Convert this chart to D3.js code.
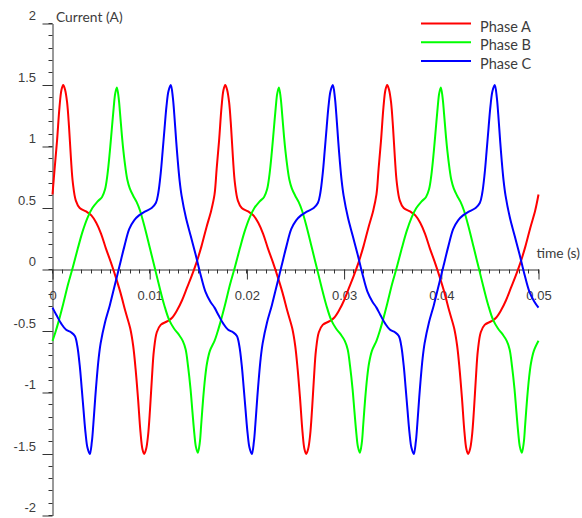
<!DOCTYPE html>
<html>
<head>
<meta charset="utf-8">
<script src="https://cdn.jsdelivr.net/npm/d3@7"></script>
<style>
  body { margin: 0; background: #fff; }
  svg { display: block; font-family: Lato, "Noto Sans", sans-serif; }
</style>
</head>
<body>
<script>
const width = 582;
const height = 518;

// time in ms, current in A
const phaseA = [
  [0.00, 0.61], [0.22, 0.82], [0.47, 1.05], [0.72, 1.32], [0.92, 1.46], [1.10, 1.50], [1.30, 1.46], [1.50, 1.36],
  [1.70, 1.16], [1.90, 0.90], [2.10, 0.70], [2.40, 0.56], [2.80, 0.50], [3.50, 0.47], [4.00, 0.44], [4.50, 0.38],
  [5.00, 0.29], [5.50, 0.17], [6.00, 0.06], [6.50, -0.06], [7.00, -0.19], [7.50, -0.34], [8.00, -0.48], [8.30, -0.62],
  [8.55, -0.81], [8.80, -1.05], [9.05, -1.32], [9.25, -1.46], [9.43, -1.50], [9.63, -1.46], [9.83, -1.35], [10.03, -1.14],
  [10.23, -0.88], [10.43, -0.66], [10.73, -0.51], [11.13, -0.45], [11.83, -0.42], [12.33, -0.39], [12.83, -0.33], [13.33, -0.25],
  [13.83, -0.15], [14.33, -0.05], [14.83, 0.06], [15.33, 0.19], [15.83, 0.34], [16.33, 0.48],
  [16.67, 0.61], [16.89, 0.82], [17.14, 1.05], [17.39, 1.32], [17.59, 1.46], [17.77, 1.50], [17.97, 1.46], [18.17, 1.36],
  [18.37, 1.16], [18.57, 0.90], [18.77, 0.70], [19.07, 0.56], [19.47, 0.50], [20.17, 0.47], [20.67, 0.44], [21.17, 0.38],
  [21.67, 0.29], [22.17, 0.17], [22.67, 0.06], [23.17, -0.06], [23.67, -0.19], [24.17, -0.34], [24.67, -0.48], [24.97, -0.62],
  [25.22, -0.81], [25.47, -1.05], [25.72, -1.32], [25.92, -1.46], [26.10, -1.50], [26.30, -1.46], [26.50, -1.35], [26.70, -1.14],
  [26.90, -0.88], [27.10, -0.66], [27.40, -0.51], [27.80, -0.45], [28.50, -0.42], [29.00, -0.39], [29.50, -0.33], [30.00, -0.25],
  [30.50, -0.15], [31.00, -0.05], [31.50, 0.06], [32.00, 0.19], [32.50, 0.34], [33.00, 0.48],
  [33.33, 0.61], [33.55, 0.82], [33.80, 1.05], [34.05, 1.32], [34.25, 1.46], [34.43, 1.50], [34.63, 1.46], [34.83, 1.36],
  [35.03, 1.16], [35.23, 0.90], [35.43, 0.70], [35.73, 0.56], [36.13, 0.50], [36.83, 0.47], [37.33, 0.44], [37.83, 0.38],
  [38.33, 0.29], [38.83, 0.17], [39.33, 0.06], [39.83, -0.06], [40.33, -0.19], [40.83, -0.34], [41.33, -0.48], [41.63, -0.62],
  [41.88, -0.81], [42.13, -1.05], [42.38, -1.32], [42.58, -1.46], [42.76, -1.50], [42.96, -1.46], [43.16, -1.35], [43.36, -1.14],
  [43.56, -0.88], [43.76, -0.66], [44.06, -0.51], [44.46, -0.45], [45.16, -0.42], [45.66, -0.39], [46.16, -0.33], [46.66, -0.25],
  [47.16, -0.15], [47.66, -0.05], [48.16, 0.06], [48.66, 0.19], [49.16, 0.34], [49.66, 0.48], [50.00, 0.61]
];

const phaseB = [
  [0.00, -0.58], [0.30, -0.51], [0.60, -0.43], [1.10, -0.28], [1.60, -0.12], [2.10, 0.02], [2.60, 0.17], [3.10, 0.31],
  [3.60, 0.42], [4.10, 0.50], [4.60, 0.55], [5.10, 0.59], [5.40, 0.65], [5.65, 0.77], [5.90, 0.96], [6.10, 1.14],
  [6.30, 1.32], [6.45, 1.43], [6.62, 1.48], [6.80, 1.40], [6.95, 1.27], [7.15, 1.08], [7.30, 0.96], [7.50, 0.83],
  [7.70, 0.73], [7.95, 0.66], [8.30, 0.60], [8.65, 0.55], [9.00, 0.48], [9.50, 0.34], [10.00, 0.18], [10.50, 0.02],
  [11.00, -0.14], [11.50, -0.29], [12.00, -0.41], [12.50, -0.48], [13.00, -0.53], [13.40, -0.58], [13.70, -0.65], [13.95, -0.79],
  [14.20, -0.97], [14.40, -1.16], [14.60, -1.34], [14.75, -1.44], [14.95, -1.49], [15.15, -1.41], [15.30, -1.26], [15.50, -1.05],
  [15.70, -0.88], [15.90, -0.76], [16.20, -0.66],
  [16.67, -0.58], [16.97, -0.51], [17.27, -0.43], [17.77, -0.28], [18.27, -0.12], [18.77, 0.02], [19.27, 0.17], [19.77, 0.31],
  [20.27, 0.42], [20.77, 0.50], [21.27, 0.55], [21.77, 0.59], [22.07, 0.65], [22.32, 0.77], [22.57, 0.96], [22.77, 1.14],
  [22.97, 1.32], [23.12, 1.43], [23.29, 1.48], [23.47, 1.40], [23.62, 1.27], [23.82, 1.08], [23.97, 0.96], [24.17, 0.83],
  [24.37, 0.73], [24.62, 0.66], [24.97, 0.60], [25.32, 0.55], [25.67, 0.48], [26.17, 0.34], [26.67, 0.18], [27.17, 0.02],
  [27.67, -0.14], [28.17, -0.29], [28.67, -0.41], [29.17, -0.48], [29.67, -0.53], [30.07, -0.58], [30.37, -0.65], [30.62, -0.79],
  [30.87, -0.97], [31.07, -1.16], [31.27, -1.34], [31.42, -1.44], [31.62, -1.49], [31.82, -1.41], [31.97, -1.26], [32.17, -1.05],
  [32.37, -0.88], [32.57, -0.76], [32.87, -0.66],
  [33.33, -0.58], [33.63, -0.51], [33.93, -0.43], [34.43, -0.28], [34.93, -0.12], [35.43, 0.02], [35.93, 0.17], [36.43, 0.31],
  [36.93, 0.42], [37.43, 0.50], [37.93, 0.55], [38.43, 0.59], [38.73, 0.65], [38.98, 0.77], [39.23, 0.96], [39.43, 1.14],
  [39.63, 1.32], [39.78, 1.43], [39.95, 1.48], [40.13, 1.40], [40.28, 1.27], [40.48, 1.08], [40.63, 0.96], [40.83, 0.83],
  [41.03, 0.73], [41.28, 0.66], [41.63, 0.60], [41.98, 0.55], [42.33, 0.48], [42.83, 0.34], [43.33, 0.18], [43.83, 0.02],
  [44.33, -0.14], [44.83, -0.29], [45.33, -0.41], [45.83, -0.48], [46.33, -0.53], [46.73, -0.58], [47.03, -0.65], [47.28, -0.79],
  [47.53, -0.97], [47.73, -1.16], [47.93, -1.34], [48.08, -1.44], [48.28, -1.49], [48.48, -1.41], [48.63, -1.26], [48.83, -1.05],
  [49.03, -0.88], [49.23, -0.76], [49.53, -0.66], [50.00, -0.58]
];

const phaseC = [
  [0.00, -0.31], [0.40, -0.37], [0.90, -0.44], [1.40, -0.49], [1.90, -0.51], [2.30, -0.54], [2.55, -0.62], [2.80, -0.78],
  [3.00, -0.96], [3.20, -1.15], [3.40, -1.33], [3.60, -1.45], [3.84, -1.50], [4.05, -1.40], [4.20, -1.26], [4.40, -1.04],
  [4.55, -0.89], [4.75, -0.72], [4.95, -0.60], [5.40, -0.43], [5.90, -0.29], [6.40, -0.13], [6.90, 0.03], [7.40, 0.19],
  [7.90, 0.33], [8.40, 0.40], [8.90, 0.44], [9.50, 0.47], [10.20, 0.50], [10.63, 0.54], [10.88, 0.62], [11.13, 0.78],
  [11.33, 0.96], [11.53, 1.15], [11.73, 1.33], [11.93, 1.45], [12.17, 1.50], [12.38, 1.40], [12.53, 1.26], [12.73, 1.04],
  [12.88, 0.89], [13.08, 0.72], [13.28, 0.60], [13.73, 0.42], [14.23, 0.27], [14.73, 0.12], [15.23, -0.04], [15.73, -0.18],
  [16.23, -0.26],
  [16.67, -0.31], [17.07, -0.37], [17.57, -0.44], [18.07, -0.49], [18.57, -0.51], [18.97, -0.54], [19.22, -0.62], [19.47, -0.78],
  [19.67, -0.96], [19.87, -1.15], [20.07, -1.33], [20.27, -1.45], [20.51, -1.50], [20.72, -1.40], [20.87, -1.26], [21.07, -1.04],
  [21.22, -0.89], [21.42, -0.72], [21.62, -0.60], [22.07, -0.43], [22.57, -0.29], [23.07, -0.13], [23.57, 0.03], [24.07, 0.19],
  [24.57, 0.33], [25.07, 0.40], [25.57, 0.44], [26.17, 0.47], [26.87, 0.50], [27.30, 0.54], [27.55, 0.62], [27.80, 0.78],
  [28.00, 0.96], [28.20, 1.15], [28.40, 1.33], [28.60, 1.45], [28.84, 1.50], [29.05, 1.40], [29.20, 1.26], [29.40, 1.04],
  [29.55, 0.89], [29.75, 0.72], [29.95, 0.60], [30.40, 0.42], [30.90, 0.27], [31.40, 0.12], [31.90, -0.04], [32.40, -0.18],
  [32.90, -0.26],
  [33.33, -0.31], [33.73, -0.37], [34.23, -0.44], [34.73, -0.49], [35.23, -0.51], [35.63, -0.54], [35.88, -0.62], [36.13, -0.78],
  [36.33, -0.96], [36.53, -1.15], [36.73, -1.33], [36.93, -1.45], [37.17, -1.50], [37.38, -1.40], [37.53, -1.26], [37.73, -1.04],
  [37.88, -0.89], [38.08, -0.72], [38.28, -0.60], [38.73, -0.43], [39.23, -0.29], [39.73, -0.13], [40.23, 0.03], [40.73, 0.19],
  [41.23, 0.33], [41.73, 0.40], [42.23, 0.44], [42.83, 0.47], [43.53, 0.50], [43.96, 0.54], [44.21, 0.62], [44.46, 0.78],
  [44.66, 0.96], [44.86, 1.15], [45.06, 1.33], [45.26, 1.45], [45.50, 1.50], [45.71, 1.40], [45.86, 1.26], [46.06, 1.04],
  [46.21, 0.89], [46.41, 0.72], [46.61, 0.60], [47.06, 0.42], [47.56, 0.27], [48.06, 0.12], [48.56, -0.04], [49.06, -0.18],
  [49.56, -0.26], [50.00, -0.31]
];

const seriesNames = ["Phase A", "Phase B", "Phase C"];
const xTickValues = [0, 0.01, 0.02, 0.03, 0.04, 0.05];
const xTickLabels = ["0", "0.01", "0.02", "0.03", "0.04", "0.05"];
const yTickValues = [-2, -1.5, -1, -0.5, 0, 0.5, 1, 1.5, 2];
const yTickLabels = ["-2", "-1.5", "-1", "-0.5", "0", "0.5", "1", "1.5", "2"];

const colors = ["#ff0000", "#00ff00", "#0000ff"];
const axisColor = "#333";
const textColor = "#3c3c3c";

const x = d3.scaleLinear().domain([0, 0.05]).range([52.5, 538.5]);
const y = d3.scaleLinear().domain([-2, 2]).range([515.5, 23.5]);

const svg = d3.select("body").append("svg").attr("width", width).attr("height", height);

// y axis
const yAxis = svg.append("g")
    .attr("transform", `translate(${x(0)},0)`)
    .call(d3.axisLeft(y).tickValues(yTickValues).tickSize(10).tickSizeOuter(0)
        .tickFormat((d, i) => yTickLabels[i]));
yAxis.selectAll("text").attr("x", -16.5).attr("dy", null).attr("y", -4);

svg.append("g").selectAll("line").data(y.ticks(40)).join("line")
    .attr("x1", x(0) - 4).attr("x2", x(0))
    .attr("y1", d => Math.round(y(d) - 0.5) + 0.5).attr("y2", d => Math.round(y(d) - 0.5) + 0.5)
    .attr("stroke", axisColor);

// x axis at zero current
const xAxis = svg.append("g")
    .attr("transform", `translate(0,${y(0)})`)
    .call(d3.axisBottom(x).tickValues(xTickValues).tickSize(10).tickSizeOuter(0)
        .tickFormat((d, i) => xTickLabels[i]));
xAxis.selectAll("text").attr("dy", null).attr("y", 30);

svg.append("g").selectAll("line").data(x.ticks(50)).join("line")
    .attr("x1", d => Math.round(x(d) - 0.5) + 0.5).attr("x2", d => Math.round(x(d) - 0.5) + 0.5)
    .attr("y1", y(0)).attr("y2", y(0) + 4)
    .attr("stroke", axisColor);

svg.selectAll(".domain, .tick line").attr("stroke", axisColor);
svg.selectAll(".tick text").attr("fill", textColor).style("font-size", "13px").style("font-family", null);

svg.append("text").attr("x", 56).attr("y", 21.5)
    .attr("fill", textColor).style("font-size", "13.8px").text("Current (A)");
svg.append("text").attr("x", 536.5).attr("y", 258)
    .attr("fill", textColor).style("font-size", "13.8px").text("time (s)");

// curves
const line = d3.line()
    .x(d => x(d[0] / 1000))
    .y(d => y(d[1]))
    .curve(d3.curveCatmullRom.alpha(0.5));

[phaseA, phaseB, phaseC].forEach((series, i) => {
    svg.append("path").datum(series)
        .attr("d", line)
        .attr("fill", "none")
        .attr("stroke", colors[i])
        .attr("stroke-width", 2);
});

// legend
const legend = svg.append("g").selectAll("g").data(seriesNames).join("g")
    .attr("transform", (d, i) => `translate(421,${23.5 + i * 18.7})`);
legend.append("line").attr("x1", 0).attr("x2", 50)
    .attr("stroke", (d, i) => colors[i]).attr("stroke-width", 2);
legend.append("text").attr("x", 59).attr("y", 8)
    .attr("fill", textColor).style("font-size", "14.5px").text(d => d);
</script>
</body>
</html>
